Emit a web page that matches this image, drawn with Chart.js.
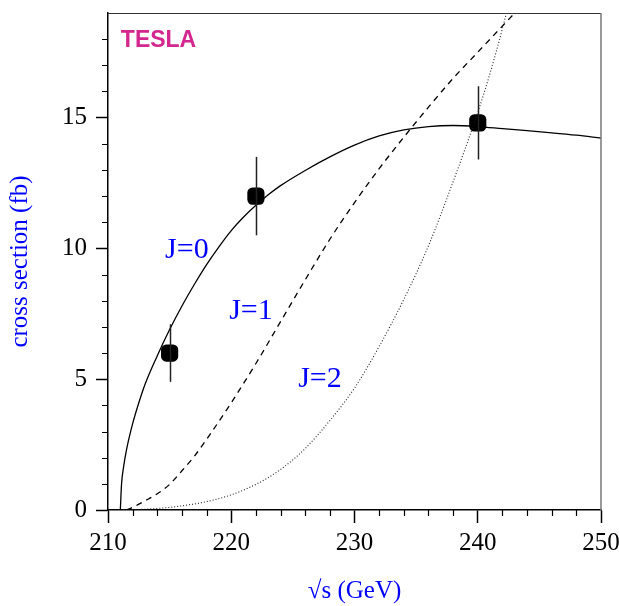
<!DOCTYPE html>
<html>
<head>
<meta charset="utf-8">
<script src="https://cdn.jsdelivr.net/npm/chart.js@4.4.1/dist/chart.umd.min.js"></script>
<style>
  html, body { margin: 0; padding: 0; background: #fff; }
  canvas { display: block; }
</style>
</head>
<body>
<canvas id="chart" width="619" height="606"></canvas>
<script>
'use strict';

// axis ticks
const xTickLabels = [210, 220, 230, 240, 250];
const yTickLabels = [0, 5, 10, 15];

// J=0 curve (solid)
const j0X = [211.0, 211.1, 211.25, 211.5, 212.0, 212.5, 213, 214, 215, 216, 217, 218, 219, 220, 221, 222, 223, 224, 226, 228, 230, 232, 234, 236, 238, 240, 242, 244, 246, 248, 250];
const j0Y = [0, 1.0, 1.6, 2.3, 3.3, 4.1, 4.8, 5.9, 6.9, 7.8, 8.62, 9.38, 10.06, 10.68, 11.2, 11.65, 12.05, 12.4, 12.98, 13.5, 13.95, 14.3, 14.53, 14.66, 14.7, 14.66, 14.58, 14.5, 14.42, 14.33, 14.22];

// J=1 curve (dashed)
const j1X = [211.5, 212, 213, 214, 215, 216, 217, 218, 220, 222, 224, 226, 228, 230, 232, 234, 236, 238, 240, 242, 243, 244];
const j1Y = [0, 0.1, 0.35, 0.62, 0.98, 1.5, 2.05, 2.7, 4.1, 5.6, 7.2, 8.8, 10.35, 11.75, 13.05, 14.25, 15.4, 16.5, 17.5, 18.5, 19.0, 19.5];

// J=2 curve (dotted)
const j2X = [211, 212, 213, 214, 215, 216, 217, 218, 220, 222, 224, 226, 228, 230, 232, 234, 236, 238, 240, 241, 242, 243];
const j2Y = [0, 0.01, 0.03, 0.06, 0.1, 0.16, 0.23, 0.32, 0.58, 0.98, 1.55, 2.35, 3.42, 4.66, 6.25, 8.05, 10.1, 12.55, 15.2, 16.7, 18.4, 20.3];

// measured points with errors
const dataX = [215, 222, 240];
const dataY = [6.0, 12.0, 14.8];
const errLow = [4.9, 10.5, 13.4];
const errHigh = [7.1, 13.5, 16.2];

// text labels placed in data coordinates
const curveLabels = ['J=0', 'J=1', 'J=2'];
const curveLabelX = [216.4, 221.6, 227.2];
const curveLabelY = [9.95, 7.6, 5.0];

const toPoints = (xs, ys) => xs.map((x, i) => ({ x: x, y: ys[i] }));

const serif = 'Liberation Serif, Times New Roman, serif';

const extras = {
  id: 'extras',
  afterDatasetsDraw(chart) {
    const ctx = chart.ctx;
    const xs = chart.scales.x;
    const ys = chart.scales.y;
    ctx.save();
    // error bars
    ctx.strokeStyle = '#222';
    ctx.lineWidth = 1.5;
    for (let i = 0; i < dataX.length; i++) {
      const px = Math.round(xs.getPixelForValue(dataX[i])) + 0.5;
      ctx.beginPath();
      ctx.moveTo(px, ys.getPixelForValue(errLow[i]));
      ctx.lineTo(px, ys.getPixelForValue(errHigh[i]));
      ctx.stroke();
    }
    ctx.restore();
  },
  afterDraw(chart) {
    const ctx = chart.ctx;
    const area = chart.chartArea;
    const xs = chart.scales.x;
    const ys = chart.scales.y;
    ctx.save();

    // minor ticks
    ctx.strokeStyle = '#000';
    ctx.lineWidth = 1.2;
    ctx.beginPath();
    xs.ticks.forEach(t => {
      if (xTickLabels.includes(t.value)) return;
      const px = Math.round(xs.getPixelForValue(t.value)) + 0.5;
      ctx.moveTo(px, area.bottom);
      ctx.lineTo(px, area.bottom + 6);
    });
    ys.ticks.forEach(t => {
      if (yTickLabels.includes(t.value) || t.value >= 19) return;
      const py = Math.round(ys.getPixelForValue(t.value)) + 0.5;
      ctx.moveTo(area.left - 6, py);
      ctx.lineTo(area.left, py);
    });
    ctx.stroke();

    // top and right frame
    ctx.strokeStyle = '#333';
    ctx.lineWidth = 1.2;
    ctx.beginPath();
    ctx.moveTo(area.left, area.top + 0.5);
    ctx.lineTo(area.right, area.top + 0.5);
    ctx.stroke();
    ctx.strokeStyle = '#777';
    ctx.lineWidth = 1.5;
    ctx.beginPath();
    ctx.moveTo(area.right, area.top);
    ctx.lineTo(area.right, area.bottom);
    ctx.stroke();

    // curve labels
    ctx.fillStyle = '#0000ff';
    ctx.font = '30px ' + serif;
    ctx.textAlign = 'center';
    ctx.textBaseline = 'middle';
    for (let i = 0; i < curveLabels.length; i++) {
      ctx.fillText(curveLabels[i], xs.getPixelForValue(curveLabelX[i]), ys.getPixelForValue(curveLabelY[i]));
    }

    // experiment label
    ctx.fillStyle = '#d4268f';
    ctx.font = 'bold 23px Liberation Sans, Arial, sans-serif';
    ctx.fillText('TESLA', xs.getPixelForValue(214.1), ys.getPixelForValue(17.95));

    ctx.restore();
  }
};

new Chart(document.getElementById('chart'), {
  type: 'line',
  data: {
    datasets: [
      {
        label: 'J=0',
        data: toPoints(j0X, j0Y),
        borderColor: '#000',
        borderWidth: 1.3,
        pointRadius: 0,
        cubicInterpolationMode: 'monotone',
        fill: false
      },
      {
        label: 'J=1',
        data: toPoints(j1X, j1Y),
        borderColor: '#000',
        borderWidth: 1.3,
        borderDash: [6, 5],
        pointRadius: 0,
        cubicInterpolationMode: 'monotone',
        fill: false
      },
      {
        label: 'J=2',
        data: toPoints(j2X, j2Y),
        borderColor: '#222',
        borderWidth: 1.1,
        borderDash: [1, 2],
        pointRadius: 0,
        cubicInterpolationMode: 'monotone',
        fill: false
      },
      {
        label: 'data',
        type: 'scatter',
        data: toPoints(dataX, dataY),
        pointStyle: 'rectRounded',
        pointRadius: 10,
        backgroundColor: '#000',
        borderColor: '#000',
        borderWidth: 0
      }
    ]
  },
  options: {
    responsive: false,
    animation: false,
    layout: { padding: { top: 13, right: 18, left: 0, bottom: 0 } },
    plugins: {
      legend: { display: false },
      tooltip: { enabled: false }
    },
    scales: {
      x: {
        type: 'linear',
        min: 210,
        max: 250,
        afterFit: scale => {
          scale.height = 96;
          scale.paddingLeft = 0;
          scale.paddingRight = 0;
        },
        border: { color: '#000', width: 1.5 },
        grid: {
          drawOnChartArea: false,
          tickLength: 13,
          tickWidth: 1.5,
          tickColor: c => xTickLabels.includes(c.tick.value) ? '#000' : 'rgba(0,0,0,0)'
        },
        ticks: {
          stepSize: 2,
          autoSkip: false,
          maxRotation: 0,
          padding: 5,
          color: '#000',
          font: { family: serif, size: 25 },
          callback: v => xTickLabels.includes(v) ? String(v) : ''
        },
        title: {
          display: true,
          text: '\u221As (GeV)',
          color: '#0000ff',
          font: { family: serif, size: 25 },
          padding: { top: 0, bottom: 0 }
        }
      },
      y: {
        type: 'linear',
        min: 0,
        max: 19,
        afterFit: scale => {
          scale.width = 108;
          scale.paddingTop = 0;
          scale.paddingBottom = 0;
        },
        border: { color: '#000', width: 1.5 },
        grid: {
          drawOnChartArea: false,
          tickLength: 12,
          tickWidth: 1.5,
          tickColor: c => yTickLabels.includes(c.tick.value) ? '#000' : 'rgba(0,0,0,0)'
        },
        ticks: {
          stepSize: 1,
          autoSkip: false,
          padding: 9,
          color: '#000',
          font: { family: serif, size: 25 },
          callback: v => yTickLabels.includes(v) ? String(v) : ''
        },
        title: {
          display: true,
          text: 'cross section (fb)',
          color: '#0000ff',
          font: { family: serif, size: 25 },
          padding: { top: 5, bottom: 0 }
        }
      }
    }
  },
  plugins: [extras]
});
</script>
</body>
</html>
